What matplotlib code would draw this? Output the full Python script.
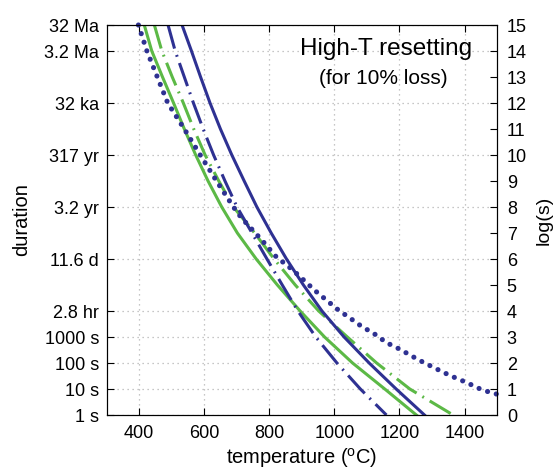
import matplotlib.pyplot as plt

plt.rcParams['font.family'] = ['Liberation Sans', 'DejaVu Sans']

# log10 of duration (s) at which each curve is read
logs_int = [15, 14, 13, 12, 11, 10, 9, 8, 7, 6, 5, 4, 3, 2, 1, 0]

# temperatures (°C)
t_blue_solid = [532, 561, 589, 618, 650, 685, 723, 762, 806, 853, 905, 962, 1030, 1107, 1190, 1277]
t_blue_dashdot = [489, 511, 539, 567, 597, 629, 664, 701, 747, 793, 840, 888, 943, 1008, 1080, 1160]
t_green_dashdot = [447, 470, 502, 536, 568, 603, 645, 690, 755, 815, 880, 952, 1040, 1130, 1232, 1365]
t_green_solid = [416, 439, 472, 506, 539, 574, 612, 654, 702, 760, 825, 895, 970, 1056, 1155, 1252]

logs_dot = [15, 14, 13, 12, 11, 10, 9, 8, 7.59, 6.73, 6.09, 5.58, 4.77, 4.26, 4.0, 3.81, 3.37,
            3.18, 3.0, 2.78, 2.63, 2.46, 2.12, 1.79, 1.51, 1.24, 0.96, 0.8]
t_blue_dot = [398, 424, 456, 488, 539, 588, 638, 690, 714, 777, 821, 872, 942, 991, 1016, 1039, 1088,
              1116, 1137, 1160, 1186, 1211, 1259, 1311, 1357, 1408, 1455, 1500]

# left axis labels
dur_ticks = [0, 1, 2, 3, 4, 6, 8, 10, 12, 14, 15]
dur_labels = ['1 s', '10 s', '100 s', '1000 s', '2.8 hr', '11.6 d', '3.2 yr', '317 yr', '32 ka', '3.2 Ma', '32 Ma']
x_ticks = [400, 600, 800, 1000, 1200, 1400]

navy = '#2e3192'
green = '#5cb946'

fig = plt.figure(figsize=(5.56, 4.70), dpi=100)
ax = fig.add_axes([0.1916, 0.117, 0.7024, 0.8298])

ax.plot(t_green_solid, logs_int, color=green, lw=2.2)
ax.plot(t_green_dashdot, logs_int, color=green, lw=2.2, linestyle=(0, (8, 2.2, 0.6, 2.2)))
ax.plot(t_blue_dashdot, logs_int, color=navy, lw=2.2, linestyle=(0, (8, 2.2, 0.6, 2.2)))
ax.plot(t_blue_solid, logs_int, color=navy, lw=2.2)
# dotted curve: round dots, about 9 px apart
ax.plot(t_blue_dot, logs_dot, color=navy, lw=3.7, linestyle=(0, (0.01, 1.75)),
        dash_capstyle='round', clip_on=False)

ax.set_xlim(300, 1500)
ax.set_ylim(0, 15)
ax.set_xticks(x_ticks)
ax.set_yticks(dur_ticks)
ax.set_yticklabels(dur_labels)
ax.grid(True, color='#b4b4b4', linestyle=(0, (1, 3)), lw=0.9)
ax.tick_params(direction='in', length=5, top=True, labelsize=13)
ax.tick_params(axis='x', pad=7)
ax.tick_params(axis='y', pad=5.5)

ax2 = ax.twinx()
ax2.set_ylim(0, 15)
ax2.set_yticks(range(16))
ax2.tick_params(direction='in', length=5, labelsize=13, pad=7)

ax.set_xlabel('temperature ($^\\mathregular{o}$C)', fontsize=14.5)
ax.xaxis.set_label_coords(0.5, -0.08)
ax.set_ylabel('duration', fontsize=14.5)
ax.yaxis.set_label_coords(-0.193, 0.5)
ax2.set_ylabel('log(s)', fontsize=14)
ax2.yaxis.set_label_coords(1.1, 0.5)

ax.text(0.716, 0.938, 'High-T resetting', transform=ax.transAxes, ha='center', va='center', fontsize=17.5)
ax.text(0.708, 0.864, '(for 10% loss)', transform=ax.transAxes, ha='center', va='center', fontsize=15)

fig.savefig('out.png', dpi=100)
